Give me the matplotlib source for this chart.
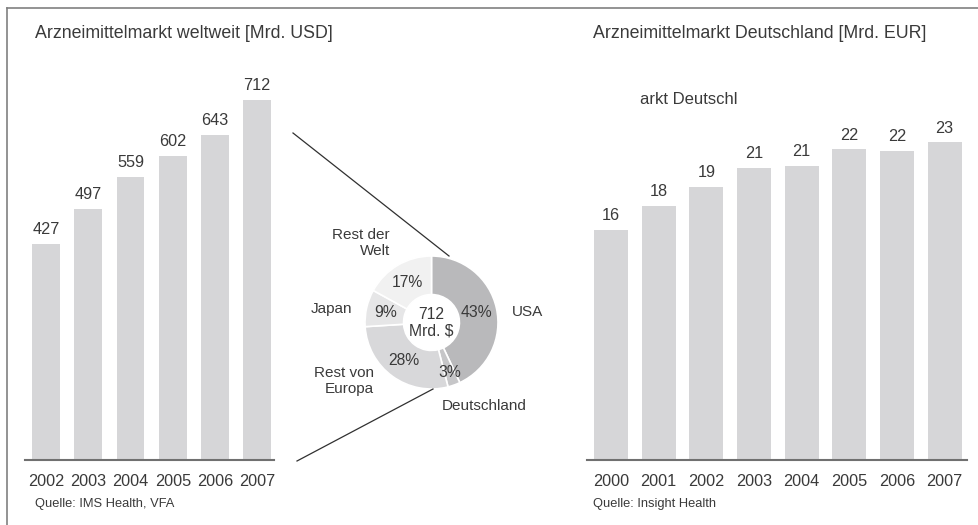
import matplotlib
matplotlib.use("Agg")
import matplotlib.pyplot as plt
from matplotlib.lines import Line2D
import math

plt.rcParams['font.family'] = ['Liberation Sans', 'DejaVu Sans']

# ---- data ----
world_years = ["2002", "2003", "2004", "2005", "2006", "2007"]
world_values = [427, 497, 559, 602, 643, 712]

de_years = ["2000", "2001", "2002", "2003", "2004", "2005", "2006", "2007"]
de_values = [16.4, 18.1, 19.4, 20.8, 20.9, 22.1, 22.0, 22.6]
de_labels = ["16", "18", "19", "21", "21", "22", "22", "23"]

pie_names = ["USA", "Deutschland", "Rest von\nEuropa", "Japan", "Rest der\nWelt"]
pie_shares = [43, 3, 28, 9, 17]
pie_colors = ["#b9b9bb", "#c6c6c8", "#d8d8da", "#e6e6e7", "#f1f1f1"]

W, H = 979, 525
fig = plt.figure(figsize=(W / 100, H / 100), dpi=100)
fig.patch.set_facecolor("white")

TXT = "#3a3a3a"
BAR = "#d6d6d8"
AX = "#707070"
FS_VAL = 11.7
FS_TITLE = 12.8


def px_axes(x0, y0, x1, y1):
    """axes from image pixel box (top-left origin)"""
    return fig.add_axes([x0 / W, 1 - y1 / H, (x1 - x0) / W, (y1 - y0) / H])


def style_bar_axes(ax):
    for s in ["top", "right", "left"]:
        ax.spines[s].set_visible(False)
    ax.spines["bottom"].set_color(AX)
    ax.spines["bottom"].set_linewidth(1.5)
    ax.set_yticks([])
    ax.tick_params(axis="x", length=0, pad=10, labelsize=FS_VAL, labelcolor=TXT)
    ax.set_facecolor("none")


# ---- left bar chart ----
axl = px_axes(25, 60, 274, 460)
xl = list(range(len(world_years)))
axl.bar(xl, world_values, width=0.66, color=BAR)
axl.set_xlim(-0.5, 5.4)
axl.set_ylim(0, 712 * 400 / 360)
axl.set_xticks(xl)
axl.set_xticklabels(world_years)
style_bar_axes(axl)
for x, v in zip(xl, world_values):
    axl.annotate(str(v), (x, v), xytext=(0, 5), textcoords="offset points",
                 ha="center", va="bottom", fontsize=FS_VAL, color=TXT)

# ---- right bar chart ----
axr = px_axes(587, 60, 967, 460)
xr = list(range(len(de_years)))
axr.bar(xr, de_values, width=0.71, color=BAR)
axr.set_xlim(-0.504, 7.47)
axr.set_ylim(0, 400 / 14.05)
axr.set_xticks(xr)
axr.set_xticklabels(de_years)
style_bar_axes(axr)
for x, v, t in zip(xr, de_values, de_labels):
    axr.annotate(t, (x, v), xytext=(0, 5), textcoords="offset points",
                 ha="center", va="bottom", fontsize=FS_VAL, color=TXT)

# ---- donut ----
cx, cy, r = 431.5, 322.5, 66.5
axp = px_axes(cx - r, cy - r, cx + r, cy + r)
wedges, _ = axp.pie(pie_shares, colors=pie_colors, startangle=90, counterclock=False,
                    radius=1.0, wedgeprops=dict(width=0.58, edgecolor="white", linewidth=1.2))
axp.set_xlim(-1, 1)
axp.set_ylim(-1, 1)
axp.set_aspect("equal")
axp.axis("off")

cum = 0
pct_r = [0.70, 0.80, 0.70, 0.70, 0.70]
for i, s in enumerate(pie_shares):
    mid = 90 - (cum + s / 2) * 3.6
    cum += s
    rr = pct_r[i]
    axp.text(rr * math.cos(math.radians(mid)), rr * math.sin(math.radians(mid)),
             f"{s}%", ha="center", va="center", fontsize=11.3, color=TXT)
axp.text(0, 0, "712\nMrd. $", ha="center", va="center", fontsize=11.3, color=TXT,
         linespacing=1.1)


def ftext(x, y, s, **kw):
    fig.text(x / W, 1 - y / H, s, **kw)


# outer pie labels
ftext(512, 312, pie_names[0], ha="left", va="center", fontsize=11, color=TXT)
ftext(442, 406, pie_names[1], ha="left", va="center", fontsize=11, color=TXT)
ftext(374, 381, pie_names[2], ha="right", va="center", fontsize=11, color=TXT, linespacing=1.15)
ftext(390, 309, pie_names[3], ha="right", va="center", fontsize=11, color=TXT) if False else \
    ftext(352, 309, pie_names[3], ha="right", va="center", fontsize=11, color=TXT)
ftext(390, 243, pie_names[4], ha="right", va="center", fontsize=11, color=TXT, linespacing=1.15)

# connector lines
for (x0, y0, x1, y1) in [(293, 133, 449, 256), (433, 389, 297, 461)]:
    fig.add_artist(Line2D([x0 / W, x1 / W], [1 - y0 / H, 1 - y1 / H],
                          color="#303030", linewidth=0.9))

# border (top + left)
fig.add_artist(Line2D([7.5 / W, 1], [1 - 8 / H, 1 - 8 / H], color="#808080", linewidth=1.2))
fig.add_artist(Line2D([7.5 / W, 7.5 / W], [0, 1 - 8 / H], color="#808080", linewidth=1.2))

# titles
ftext(35, 33, "Arzneimittelmarkt weltweit [Mrd. USD]", ha="left", va="center",
      fontsize=FS_TITLE, color=TXT)
ftext(593, 33, "Arzneimittelmarkt Deutschland [Mrd. EUR]", ha="left", va="center",
      fontsize=FS_TITLE, color=TXT)
ftext(640, 100, "arkt Deutschl", ha="left", va="center", fontsize=12, color=TXT)

# sources
ftext(35, 504, "Quelle: IMS Health, VFA", ha="left", va="center", fontsize=9.3, color=TXT)
ftext(593, 504, "Quelle: Insight Health", ha="left", va="center", fontsize=9.3, color=TXT)

fig.savefig("out.png", dpi=100, facecolor="white")
